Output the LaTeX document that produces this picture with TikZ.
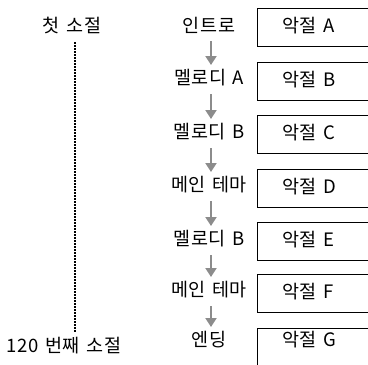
\documentclass[tikz,border=0pt]{standalone}
\usepackage{fontspec}
\setmainfont{Noto Sans CJK KR}[LetterSpace=3, WordSpace=1.4]
\usetikzlibrary{arrows.meta}

\begin{document}
\begin{tikzpicture}[
  x=1pt, y=-1pt,
  font=\fontsize{18.5}{20}\selectfont, >={Triangle[width=11pt,length=9pt]},
  sec/.style={inner sep=0pt},
  phr/.style={draw, line width=0.8pt, anchor=north west, minimum height=38pt, text width=78pt, inner xsep=25pt, inner ysep=0pt, align=left, text height=19pt, text depth=9pt},
  flow/.style={->, draw=black!45, line width=2pt},
  tl/.style={inner sep=0pt}
]
  \clip (0,0) rectangle (368,365);
  % time line
  \node[tl] (first) at (72,26) {첫 소절};
  \node[tl] (last) at (64,346) {120 번째 소절};
  \draw[dash pattern=on 1.6pt off 1.4pt, line width=1.8pt] (75,42) coordinate (t0) -- (75,332) coordinate (t1);
  % sections
  \node[sec] (sec1) at (209,25) {인트로};
  \node[sec] (sec2) at (209,78) {멜로디 A};
  \node[sec] (sec3) at (209,132) {멜로디 B};
  \node[sec] (sec4) at (209,185) {메인 테마};
  \node[sec] (sec5) at (209,239) {멜로디 B};
  \node[sec] (sec6) at (209,290) {메인 테마};
  \node[sec] (sec7) at (209,340) {엔딩};
  \draw[flow] ([xshift=2pt,yshift=-16pt]sec1.center) -- ([xshift=2pt,yshift=13pt]sec2.center);
  \draw[flow] ([xshift=2pt,yshift=-16pt]sec2.center) -- ([xshift=2pt,yshift=13pt]sec3.center);
  \draw[flow] ([xshift=2pt,yshift=-16pt]sec3.center) -- ([xshift=2pt,yshift=13pt]sec4.center);
  \draw[flow] ([xshift=2pt,yshift=-16pt]sec4.center) -- ([xshift=2pt,yshift=13pt]sec5.center);
  \draw[flow] ([xshift=2pt,yshift=-16pt]sec5.center) -- ([xshift=2pt,yshift=13pt]sec6.center);
  \draw[flow] ([xshift=2pt,yshift=-16pt]sec6.center) -- ([xshift=2pt,yshift=13pt]sec7.center);
  % phrases
  \node[phr] (ph1) at (257,8) {악절 A};
  \node[phr] (ph2) at (257,62) {악절 B};
  \node[phr] (ph3) at (257,115) {악절 C};
  \node[phr] (ph4) at (257,169) {악절 D};
  \node[phr] (ph5) at (257,222) {악절 E};
  \node[phr] (ph6) at (257,274) {악절 F};
  \node[phr, minimum height=50pt, text height=18pt, text depth=32pt] (ph7) at (257,328) {악절 G};
\end{tikzpicture}
\end{document}
